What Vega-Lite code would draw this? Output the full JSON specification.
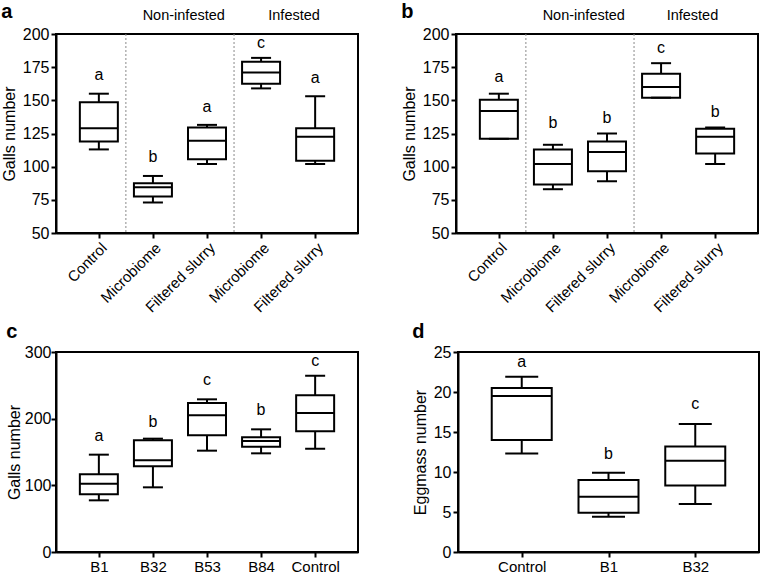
{
  "$schema": "https://vega.github.io/schema/vega-lite/v6.json",
  "padding": {"left": 0, "top": 0, "right": 2, "bottom": 0},
  "background": "white",
  "datasets": {
    "a": [
      {"x": 1, "min": 113, "q1": 119, "med": 129, "q3": 148.5, "max": 155, "letter": "a", "ly": 169},
      {"x": 2, "min": 73, "q1": 77.5, "med": 84.5, "q3": 87.5, "max": 93, "letter": "b", "ly": 107},
      {"x": 3, "min": 102, "q1": 105.5, "med": 119.5, "q3": 129.5, "max": 131.5, "letter": "a", "ly": 145},
      {"x": 4, "min": 159, "q1": 162.5, "med": 171, "q3": 179, "max": 182, "letter": "c", "ly": 193},
      {"x": 5, "min": 102, "q1": 104.5, "med": 122.5, "q3": 129, "max": 153, "letter": "a", "ly": 167}
    ],
    "b": [
      {"x": 1, "min": 121, "q1": 121, "med": 142, "q3": 150.5, "max": 155, "letter": "a", "ly": 167.5},
      {"x": 2, "min": 83, "q1": 86.5, "med": 102, "q3": 113, "max": 116.5, "letter": "b", "ly": 133},
      {"x": 3, "min": 89, "q1": 96.5, "med": 111, "q3": 119, "max": 125, "letter": "b", "ly": 136.5},
      {"x": 4, "min": 152, "q1": 152, "med": 160, "q3": 170, "max": 178, "letter": "c", "ly": 189.5},
      {"x": 5, "min": 102, "q1": 110, "med": 122.5, "q3": 128.5, "max": 129.5, "letter": "b", "ly": 141}
    ],
    "c": [
      {"x": 1, "min": 77.5, "q1": 86.5, "med": 102.5, "q3": 116.5, "max": 146, "letter": "a", "ly": 173.5},
      {"x": 2, "min": 97, "q1": 128.5, "med": 137.5, "q3": 167.5, "max": 170, "letter": "b", "ly": 195},
      {"x": 3, "min": 152, "q1": 175, "med": 205, "q3": 223.5, "max": 229, "letter": "c", "ly": 258.5},
      {"x": 4, "min": 148, "q1": 158, "med": 166.5, "q3": 172, "max": 184, "letter": "b", "ly": 212.5},
      {"x": 5, "min": 155, "q1": 181, "med": 208.5, "q3": 235, "max": 264.5, "letter": "c", "ly": 286}
    ],
    "d": [
      {"x": 1, "min": 12.3, "q1": 14, "med": 19.5, "q3": 20.5, "max": 21.9, "letter": "a", "ly": 23.75},
      {"x": 2, "min": 4.4, "q1": 4.9, "med": 6.9, "q3": 9.0, "max": 9.9, "letter": "b", "ly": 12.3},
      {"x": 3, "min": 6.0, "q1": 8.3, "med": 11.4, "q3": 13.2, "max": 16.0, "letter": "c", "ly": 18.5}
    ],
    "sep": [{"s": 1.5}, {"s": 3.5}],
    "groupsA": [{"g": "Non-infested", "gx": 2.57, "gy": 213.8}, {"g": "Infested", "gx": 4.61, "gy": 213.8}],
    "groupsB": [{"g": "Non-infested", "gx": 2.57, "gy": 213.8}, {"g": "Infested", "gx": 4.58, "gy": 213.8}]
  },
  "vconcat": [
    {
      "spacing": 41,
      "hconcat": [
        {
          "title": {"text": "a", "offset": -14},
          "width": 302, "height": 199,
          "data": {"name": "a"},
          "encoding": {"x": {"field": "x", "type": "quantitative", "title": null, "scale": {"domain": [0.3, 5.7], "nice": false, "zero": false},
            "axis": {"values": [1, 2, 3, 4, 5], "labelAngle": -45, "labelFontSize": 15, "labelExpr": "datum.value == 1 ? 'Control' : datum.value == 2 ? 'Microbiome' : datum.value == 3 ? 'Filtered slurry' : datum.value == 4 ? 'Microbiome' : 'Filtered slurry'"}}},
          "layer": [
            {"data": {"name": "sep"}, "mark": {"type": "rule", "color": "#8a8a8a", "strokeWidth": 1, "strokeDash": [2, 2]}, "encoding": {"x": {"field": "s", "type": "quantitative", "title": null}}},
            {"mark": {"type": "rule", "color": "black", "strokeWidth": 2}, "encoding": {"y": {"field": "min", "type": "quantitative", "title": "Galls number", "scale": {"domain": [50, 200], "nice": false, "zero": false}, "axis": {"values": [50, 75, 100, 125, 150, 175, 200]}}, "y2": {"field": "max"}}},
            {"mark": {"type": "bar", "fill": "white", "stroke": "black", "strokeWidth": 2, "size": 38}, "encoding": {"y": {"field": "q1", "type": "quantitative", "title": "Galls number", "axis": {"values": [50, 75, 100, 125, 150, 175, 200]}}, "y2": {"field": "q3"}}},
            {"mark": {"type": "tick", "orient": "horizontal", "color": "black", "thickness": 2, "size": 38, "opacity": 1}, "encoding": {"y": {"field": "med", "type": "quantitative", "title": "Galls number", "axis": {"values": [50, 75, 100, 125, 150, 175, 200]}}}},
            {"mark": {"type": "tick", "orient": "horizontal", "color": "black", "thickness": 2, "size": 20, "opacity": 1}, "encoding": {"y": {"field": "min", "type": "quantitative", "title": "Galls number", "axis": {"values": [50, 75, 100, 125, 150, 175, 200]}}}},
            {"mark": {"type": "tick", "orient": "horizontal", "color": "black", "thickness": 2, "size": 20, "opacity": 1}, "encoding": {"y": {"field": "max", "type": "quantitative", "title": "Galls number", "axis": {"values": [50, 75, 100, 125, 150, 175, 200]}}}},
            {"mark": {"type": "text", "fontSize": 16, "font": "Liberation Sans", "color": "black", "baseline": "middle"}, "encoding": {"y": {"field": "ly", "type": "quantitative", "title": "Galls number", "axis": {"values": [50, 75, 100, 125, 150, 175, 200]}}, "text": {"field": "letter"}}},
            {"data": {"name": "groupsA"}, "mark": {"type": "text", "fontSize": 14.5, "font": "Liberation Sans", "color": "black", "baseline": "middle"}, "encoding": {"x": {"field": "gx", "type": "quantitative", "title": null}, "y": {"field": "gy", "type": "quantitative", "title": "Galls number", "axis": {"values": [50, 75, 100, 125, 150, 175, 200]}}, "text": {"field": "g"}}}
          ]
        },
        {
          "title": {"text": "b", "offset": -14},
          "width": 302, "height": 199,
          "data": {"name": "b"},
          "encoding": {"x": {"field": "x", "type": "quantitative", "title": null, "scale": {"domain": [0.3, 5.7], "nice": false, "zero": false},
            "axis": {"values": [1, 2, 3, 4, 5], "labelAngle": -45, "labelFontSize": 15, "labelExpr": "datum.value == 1 ? 'Control' : datum.value == 2 ? 'Microbiome' : datum.value == 3 ? 'Filtered slurry' : datum.value == 4 ? 'Microbiome' : 'Filtered slurry'"}}},
          "layer": [
            {"data": {"name": "sep"}, "mark": {"type": "rule", "color": "#8a8a8a", "strokeWidth": 1, "strokeDash": [2, 2]}, "encoding": {"x": {"field": "s", "type": "quantitative", "title": null}}},
            {"mark": {"type": "rule", "color": "black", "strokeWidth": 2}, "encoding": {"y": {"field": "min", "type": "quantitative", "title": "Galls number", "scale": {"domain": [50, 200], "nice": false, "zero": false}, "axis": {"values": [50, 75, 100, 125, 150, 175, 200]}}, "y2": {"field": "max"}}},
            {"mark": {"type": "bar", "fill": "white", "stroke": "black", "strokeWidth": 2, "size": 38}, "encoding": {"y": {"field": "q1", "type": "quantitative", "title": "Galls number", "axis": {"values": [50, 75, 100, 125, 150, 175, 200]}}, "y2": {"field": "q3"}}},
            {"mark": {"type": "tick", "orient": "horizontal", "color": "black", "thickness": 2, "size": 38, "opacity": 1}, "encoding": {"y": {"field": "med", "type": "quantitative", "title": "Galls number", "axis": {"values": [50, 75, 100, 125, 150, 175, 200]}}}},
            {"mark": {"type": "tick", "orient": "horizontal", "color": "black", "thickness": 2, "size": 20, "opacity": 1}, "encoding": {"y": {"field": "min", "type": "quantitative", "title": "Galls number", "axis": {"values": [50, 75, 100, 125, 150, 175, 200]}}}},
            {"mark": {"type": "tick", "orient": "horizontal", "color": "black", "thickness": 2, "size": 20, "opacity": 1}, "encoding": {"y": {"field": "max", "type": "quantitative", "title": "Galls number", "axis": {"values": [50, 75, 100, 125, 150, 175, 200]}}}},
            {"mark": {"type": "text", "fontSize": 16, "font": "Liberation Sans", "color": "black", "baseline": "middle"}, "encoding": {"y": {"field": "ly", "type": "quantitative", "title": "Galls number", "axis": {"values": [50, 75, 100, 125, 150, 175, 200]}}, "text": {"field": "letter"}}},
            {"data": {"name": "groupsB"}, "mark": {"type": "text", "fontSize": 14.5, "font": "Liberation Sans", "color": "black", "baseline": "middle"}, "encoding": {"x": {"field": "gx", "type": "quantitative", "title": null}, "y": {"field": "gy", "type": "quantitative", "title": "Galls number", "axis": {"values": [50, 75, 100, 125, 150, 175, 200]}}, "text": {"field": "g"}}}
          ]
        }
      ]
    },
    {
      "spacing": 52,
      "hconcat": [
        {
          "title": {"text": "c", "offset": 2},
          "width": 302, "height": 200,
          "data": {"name": "c"},
          "encoding": {"x": {"field": "x", "type": "quantitative", "title": null, "scale": {"domain": [0.3, 5.7], "nice": false, "zero": false},
            "axis": {"values": [1, 2, 3, 4, 5], "labelAngle": 0, "labelFontSize": 15, "labelExpr": "datum.value == 1 ? 'B1' : datum.value == 2 ? 'B32' : datum.value == 3 ? 'B53' : datum.value == 4 ? 'B84' : 'Control'"}}},
          "layer": [
            {"mark": {"type": "rule", "color": "black", "strokeWidth": 2}, "encoding": {"y": {"field": "min", "type": "quantitative", "title": "Galls number", "scale": {"domain": [0, 300], "nice": false}, "axis": {"values": [0, 100, 200, 300], "titlePadding": 2, "labelPadding": 0}}, "y2": {"field": "max"}}},
            {"mark": {"type": "bar", "fill": "white", "stroke": "black", "strokeWidth": 2, "size": 38}, "encoding": {"y": {"field": "q1", "type": "quantitative", "title": "Galls number", "axis": {"values": [0, 100, 200, 300], "titlePadding": 2, "labelPadding": 0}}, "y2": {"field": "q3"}}},
            {"mark": {"type": "tick", "orient": "horizontal", "color": "black", "thickness": 2, "size": 38, "opacity": 1}, "encoding": {"y": {"field": "med", "type": "quantitative", "title": "Galls number", "axis": {"values": [0, 100, 200, 300], "titlePadding": 2, "labelPadding": 0}}}},
            {"mark": {"type": "tick", "orient": "horizontal", "color": "black", "thickness": 2, "size": 20, "opacity": 1}, "encoding": {"y": {"field": "min", "type": "quantitative", "title": "Galls number", "axis": {"values": [0, 100, 200, 300], "titlePadding": 2, "labelPadding": 0}}}},
            {"mark": {"type": "tick", "orient": "horizontal", "color": "black", "thickness": 2, "size": 20, "opacity": 1}, "encoding": {"y": {"field": "max", "type": "quantitative", "title": "Galls number", "axis": {"values": [0, 100, 200, 300], "titlePadding": 2, "labelPadding": 0}}}},
            {"mark": {"type": "text", "fontSize": 16, "font": "Liberation Sans", "color": "black", "baseline": "middle"}, "encoding": {"y": {"field": "ly", "type": "quantitative", "title": "Galls number", "axis": {"values": [0, 100, 200, 300], "titlePadding": 2, "labelPadding": 0}}, "text": {"field": "letter"}}}
          ]
        },
        {
          "title": {"text": "d", "offset": 2},
          "width": 301, "height": 200,
          "data": {"name": "d"},
          "encoding": {"x": {"field": "x", "type": "quantitative", "title": null, "scale": {"domain": [0.323, 3.677], "nice": false, "zero": false},
            "axis": {"values": [1, 2, 3], "labelAngle": 0, "labelFontSize": 15, "labelExpr": "datum.value == 1 ? 'Control' : datum.value == 2 ? 'B1' : 'B32'"}}},
          "layer": [
            {"mark": {"type": "rule", "color": "black", "strokeWidth": 2}, "encoding": {"y": {"field": "min", "type": "quantitative", "title": "Eggmass number", "scale": {"domain": [0, 25], "nice": false}, "axis": {"values": [0, 5, 10, 15, 20, 25]}}, "y2": {"field": "max"}}},
            {"mark": {"type": "bar", "fill": "white", "stroke": "black", "strokeWidth": 2, "size": 60}, "encoding": {"y": {"field": "q1", "type": "quantitative", "title": "Eggmass number", "axis": {"values": [0, 5, 10, 15, 20, 25]}}, "y2": {"field": "q3"}}},
            {"mark": {"type": "tick", "orient": "horizontal", "color": "black", "thickness": 2, "size": 60, "opacity": 1}, "encoding": {"y": {"field": "med", "type": "quantitative", "title": "Eggmass number", "axis": {"values": [0, 5, 10, 15, 20, 25]}}}},
            {"mark": {"type": "tick", "orient": "horizontal", "color": "black", "thickness": 2, "size": 33, "opacity": 1}, "encoding": {"y": {"field": "min", "type": "quantitative", "title": "Eggmass number", "axis": {"values": [0, 5, 10, 15, 20, 25]}}}},
            {"mark": {"type": "tick", "orient": "horizontal", "color": "black", "thickness": 2, "size": 33, "opacity": 1}, "encoding": {"y": {"field": "max", "type": "quantitative", "title": "Eggmass number", "axis": {"values": [0, 5, 10, 15, 20, 25]}}}},
            {"mark": {"type": "text", "fontSize": 16, "font": "Liberation Sans", "color": "black", "baseline": "middle"}, "encoding": {"y": {"field": "ly", "type": "quantitative", "title": "Eggmass number", "axis": {"values": [0, 5, 10, 15, 20, 25]}}, "text": {"field": "letter"}}}
          ]
        }
      ]
    }
  ],
  "spacing": 5,
  "config": {
    "font": "Liberation Sans",
    "view": {"stroke": "black", "strokeWidth": 2},
    "title": {"fontSize": 20, "fontWeight": "bold", "anchor": "start", "frame": "bounds", "font": "Liberation Sans", "color": "black"},
    "axis": {"domainColor": "black", "domainWidth": 2, "tickColor": "black", "tickWidth": 2, "tickSize": 5, "labelColor": "black", "labelFont": "Liberation Sans", "labelFontSize": 16, "labelPadding": 2, "titleFont": "Liberation Sans", "titleFontSize": 16, "titleFontWeight": "normal", "titleColor": "black", "titlePadding": 5, "grid": false, "labelOverlap": false}
  }
}
